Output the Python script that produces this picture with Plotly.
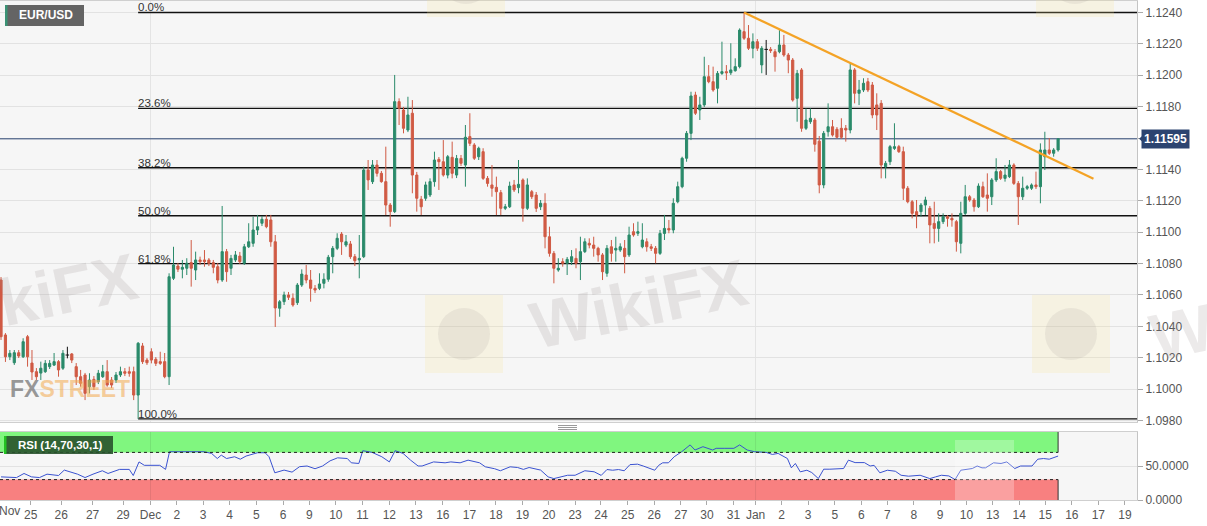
import plotly.graph_objects as go

# ---------------- data (EUR/USD, 4-hour candles) ----------------
opens = [
    1.10695, 1.10345, 1.10206, 1.10168, 1.10232, 1.10206, 1.10334, 1.10166, 1.10111, 1.10102,
    1.10111, 1.10143, 1.10153, 1.10175, 1.10133, 1.10217, 1.10224, 1.10143, 1.10079, 1.10090,
    1.10015, 1.10062, 1.10047, 1.10079, 1.10111, 1.10058, 1.10058, 1.10090, 1.10111, 1.10111,
    1.10111, 1.09962, 1.10275, 1.10185, 1.10238, 1.10190, 1.10175, 1.10175, 1.10079, 1.10706,
    1.10784, 1.10764, 1.10770, 1.10806, 1.10759, 1.10823, 1.10823, 1.10823, 1.10806, 1.10780,
    1.10695, 1.10876, 1.10770, 1.10823, 1.10848, 1.10802, 1.10907, 1.10929, 1.11014, 1.11057,
    1.11082, 1.11078, 1.10939, 1.10515, 1.10557, 1.10600, 1.10579, 1.10551, 1.10663, 1.10727,
    1.10695, 1.10642, 1.10642, 1.10674, 1.10700, 1.10844, 1.10897, 1.10988, 1.10918, 1.10925,
    1.10844, 1.10823, 1.10844, 1.11396, 1.11322, 1.11428, 1.11375, 1.11322, 1.11173, 1.11131,
    1.11832, 1.11779, 1.11651, 1.11758, 1.11364, 1.11210, 1.11216, 1.11237, 1.11322, 1.11464,
    1.11449, 1.11364, 1.11477, 1.11364, 1.11470, 1.11428, 1.11609, 1.11556, 1.11481, 1.11513,
    1.11343, 1.11301, 1.11286, 1.11252, 1.11152, 1.11162, 1.11301, 1.11284, 1.11333, 1.11152,
    1.11258, 1.11237, 1.11162, 1.11184, 1.10971, 1.10865, 1.10759, 1.10812, 1.10802, 1.10812,
    1.10833, 1.10812, 1.10876, 1.10929, 1.10918, 1.10897, 1.10855, 1.10738, 1.10907, 1.10886,
    1.10886, 1.10897, 1.10855, 1.11003, 1.10993, 1.10907, 1.10939, 1.10907, 1.10897, 1.10865,
    1.10992, 1.11024, 1.11014, 1.11194, 1.11290, 1.11471, 1.11630, 1.11874, 1.11779, 1.11811,
    1.11991, 1.11959, 1.11917, 1.12012, 1.12023, 1.12016, 1.12029, 1.12055, 1.12278, 1.12236,
    1.12172, 1.12214, 1.12066, 1.12165, 1.12165, 1.12150, 1.12150, 1.12193, 1.12129, 1.12097,
    1.11853, 1.12034, 1.11662, 1.11704, 1.11715, 1.11580, 1.11301, 1.11640, 1.11672, 1.11656,
    1.11662, 1.11662, 1.11651, 1.12034, 1.11885, 1.11906, 1.11959, 1.11938, 1.11811, 1.11821,
    1.11417, 1.11449, 1.11534, 1.11545, 1.11513, 1.11280, 1.11194, 1.11131, 1.11131, 1.11173,
    1.11152, 1.11056, 1.11024, 1.11067, 1.11099, 1.11088, 1.11067, 1.10929, 1.11120, 1.11226,
    1.11205, 1.11162, 1.11290, 1.11237, 1.11226, 1.11333, 1.11386, 1.11343, 1.11354, 1.11428,
    1.11311, 1.11226, 1.11280, 1.11280, 1.11301, 1.11290, 1.11481, 1.11524, 1.11503, 1.11524,
]
highs = [
    1.10714, 1.10357, 1.10249, 1.10249, 1.10249, 1.10324, 1.10345, 1.10249, 1.10134, 1.10175,
    1.10185, 1.10185, 1.10230, 1.10185, 1.10249, 1.10270, 1.10230, 1.10166, 1.10122, 1.10103,
    1.10101, 1.10083, 1.10122, 1.10154, 1.10185, 1.10077, 1.10109, 1.10143, 1.10134, 1.10143,
    1.10143, 1.10300, 1.10294, 1.10198, 1.10260, 1.10204, 1.10238, 1.10230, 1.10738, 1.10907,
    1.10804, 1.10823, 1.10834, 1.10950, 1.10876, 1.10844, 1.10886, 1.10835, 1.10823, 1.10804,
    1.11167, 1.10893, 1.10855, 1.10880, 1.10874, 1.10925, 1.11057, 1.11099, 1.11110, 1.11103,
    1.11110, 1.11110, 1.10982, 1.10568, 1.10621, 1.10619, 1.10610, 1.10676, 1.10763, 1.10791,
    1.10759, 1.10663, 1.10738, 1.10738, 1.10855, 1.10912, 1.10993, 1.11001, 1.10982, 1.10944,
    1.10861, 1.10982, 1.11417, 1.11460, 1.11460, 1.11460, 1.11390, 1.11545, 1.11186, 1.12002,
    1.11853, 1.11798, 1.11863, 1.11842, 1.11384, 1.11231, 1.11322, 1.11343, 1.11513, 1.11479,
    1.11587, 1.11492, 1.11577, 1.11492, 1.11492, 1.11683, 1.11758, 1.11568, 1.11545, 1.11535,
    1.11358, 1.11428, 1.11354, 1.11269, 1.11180, 1.11322, 1.11333, 1.11460, 1.11343, 1.11343,
    1.11269, 1.11256, 1.11205, 1.11248, 1.11035, 1.10880, 1.10834, 1.10834, 1.10842, 1.10886,
    1.10897, 1.10971, 1.10961, 1.10961, 1.10971, 1.10907, 1.10867, 1.10918, 1.10950, 1.10971,
    1.10929, 1.10950, 1.11035, 1.11057, 1.11067, 1.11057, 1.10961, 1.10925, 1.10912, 1.11014,
    1.11110, 1.11078, 1.11216, 1.11322, 1.11481, 1.11645, 1.11895, 1.11895, 1.11863, 1.12118,
    1.12065, 1.12055, 1.12027, 1.12214, 1.12065, 1.12204, 1.12108, 1.12299, 1.12400, 1.12320,
    1.12267, 1.12231, 1.12186, 1.12225, 1.12180, 1.12167, 1.12288, 1.12257, 1.12142, 1.12110,
    1.12034, 1.12046, 1.11789, 1.11789, 1.11728, 1.11613, 1.11645, 1.11821, 1.11715, 1.11670,
    1.11726, 1.11683, 1.12076, 1.12046, 1.11970, 1.11981, 1.11983, 1.11957, 1.11885, 1.11842,
    1.11454, 1.11556, 1.11694, 1.11556, 1.11545, 1.11294, 1.11205, 1.11205, 1.11186, 1.11226,
    1.11167, 1.11194, 1.11120, 1.11120, 1.11109, 1.11120, 1.11078, 1.11194, 1.11301, 1.11237,
    1.11218, 1.11311, 1.11322, 1.11375, 1.11345, 1.11471, 1.11396, 1.11428, 1.11460, 1.11439,
    1.11326, 1.11354, 1.11301, 1.11311, 1.11386, 1.11566, 1.11640, 1.11600, 1.11536, 1.11600,
]
lows = [
    1.10313, 1.10173, 1.10185, 1.10154, 1.10198, 1.10198, 1.10143, 1.10058, 1.10058, 1.10058,
    1.10103, 1.10128, 1.10147, 1.10079, 1.10122, 1.10196, 1.10166, 1.10026, 1.10015, 1.09930,
    1.09973, 1.09994, 1.10032, 1.10071, 1.10015, 1.10007, 1.10039, 1.10077, 1.10083, 1.10079,
    1.09930, 1.09810, 1.10160, 1.10154, 1.10164, 1.10147, 1.10154, 1.10069, 1.10026, 1.10695,
    1.10746, 1.10706, 1.10727, 1.10653, 1.10695, 1.10791, 1.10780, 1.10784, 1.10738, 1.10674,
    1.10683, 1.10684, 1.10727, 1.10810, 1.10797, 1.10791, 1.10899, 1.10907, 1.10982, 1.11039,
    1.11025, 1.10907, 1.10396, 1.10461, 1.10536, 1.10568, 1.10525, 1.10536, 1.10651, 1.10674,
    1.10557, 1.10612, 1.10631, 1.10642, 1.10684, 1.10738, 1.10886, 1.10855, 1.10905, 1.10830,
    1.10784, 1.10706, 1.10835, 1.11269, 1.11307, 1.11354, 1.11315, 1.11109, 1.11035, 1.11122,
    1.11683, 1.11630, 1.11638, 1.11248, 1.11131, 1.11109, 1.11200, 1.11224, 1.11290, 1.11269,
    1.11354, 1.11343, 1.11343, 1.11345, 1.11422, 1.11290, 1.11549, 1.11460, 1.11460, 1.11333,
    1.11290, 1.11226, 1.11109, 1.11109, 1.11141, 1.11154, 1.11256, 1.11248, 1.11067, 1.11141,
    1.11211, 1.11129, 1.11141, 1.10897, 1.10844, 1.10674, 1.10748, 1.10780, 1.10727, 1.10791,
    1.10770, 1.10695, 1.10867, 1.10897, 1.10844, 1.10812, 1.10695, 1.10716, 1.10812, 1.10812,
    1.10874, 1.10738, 1.10842, 1.10971, 1.10976, 1.10897, 1.10876, 1.10880, 1.10802, 1.10855,
    1.10950, 1.10993, 1.10993, 1.11184, 1.11280, 1.11449, 1.11587, 1.11747, 1.11715, 1.11798,
    1.11949, 1.11895, 1.11821, 1.12002, 1.11970, 1.12002, 1.12023, 1.12044, 1.12225, 1.12161,
    1.12108, 1.12155, 1.12013, 1.12002, 1.12142, 1.12023, 1.12140, 1.12118, 1.12013, 1.11832,
    1.11704, 1.11640, 1.11651, 1.11690, 1.11513, 1.11248, 1.11280, 1.11609, 1.11609, 1.11598,
    1.11594, 1.11577, 1.11630, 1.11821, 1.11810, 1.11893, 1.11893, 1.11726, 1.11651, 1.11343,
    1.11343, 1.11428, 1.11524, 1.11505, 1.11205, 1.11184, 1.11088, 1.11025, 1.11099, 1.11109,
    1.10929, 1.10929, 1.10939, 1.11052, 1.11035, 1.11035, 1.10876, 1.10865, 1.11109, 1.11194,
    1.11131, 1.11154, 1.11218, 1.11131, 1.11173, 1.11320, 1.11333, 1.11322, 1.11345, 1.11301,
    1.11046, 1.11205, 1.11269, 1.11269, 1.11275, 1.11184, 1.11396, 1.11492, 1.11481, 1.11513,
]
closes = [
    1.10334, 1.10206, 1.10228, 1.10232, 1.10211, 1.10302, 1.10206, 1.10109, 1.10079, 1.10133,
    1.10164, 1.10164, 1.10175, 1.10122, 1.10228, 1.10217, 1.10185, 1.10079, 1.10037, 1.09973,
    1.10058, 1.10015, 1.10101, 1.10111, 1.10026, 1.10026, 1.10090, 1.10111, 1.10101, 1.10101,
    1.09962, 1.10292, 1.10175, 1.10168, 1.10185, 1.10164, 1.10164, 1.10079, 1.10716, 1.10791,
    1.10764, 1.10776, 1.10802, 1.10770, 1.10823, 1.10812, 1.10812, 1.10802, 1.10776, 1.10695,
    1.10876, 1.10748, 1.10833, 1.10855, 1.10812, 1.10907, 1.10939, 1.11014, 1.11035, 1.11082,
    1.11035, 1.10939, 1.10517, 1.10557, 1.10600, 1.10585, 1.10536, 1.10663, 1.10733, 1.10695,
    1.10642, 1.10631, 1.10670, 1.10700, 1.10840, 1.10897, 1.10961, 1.10939, 1.10939, 1.10844,
    1.10818, 1.10833, 1.11396, 1.11333, 1.11428, 1.11375, 1.11322, 1.11173, 1.11131, 1.11832,
    1.11790, 1.11662, 1.11747, 1.11364, 1.11216, 1.11162, 1.11301, 1.11322, 1.11460, 1.11449,
    1.11364, 1.11481, 1.11375, 1.11470, 1.11439, 1.11605, 1.11566, 1.11471, 1.11535, 1.11343,
    1.11311, 1.11280, 1.11258, 1.11152, 1.11162, 1.11294, 1.11269, 1.11305, 1.11152, 1.11301,
    1.11226, 1.11152, 1.11184, 1.10971, 1.10865, 1.10770, 1.10770, 1.10802, 1.10827, 1.10844,
    1.10802, 1.10876, 1.10939, 1.10918, 1.10897, 1.10855, 1.10748, 1.10897, 1.10865, 1.10897,
    1.10907, 1.10844, 1.10982, 1.10982, 1.11003, 1.10950, 1.10907, 1.10897, 1.10865, 1.10992,
    1.11024, 1.11014, 1.11184, 1.11290, 1.11471, 1.11630, 1.11868, 1.11758, 1.11811, 1.11991,
    1.11959, 1.11906, 1.12012, 1.12023, 1.12016, 1.12034, 1.12055, 1.12288, 1.12236, 1.12172,
    1.12214, 1.12172, 1.12172, 1.12165, 1.12157, 1.12118, 1.12193, 1.12129, 1.12097, 1.11842,
    1.12012, 1.11662, 1.11715, 1.11726, 1.11560, 1.11301, 1.11630, 1.11672, 1.11619, 1.11605,
    1.11605, 1.11651, 1.12034, 1.11885, 1.11906, 1.11949, 1.11906, 1.11747, 1.11747, 1.11428,
    1.11439, 1.11545, 1.11545, 1.11513, 1.11280, 1.11194, 1.11120, 1.11109, 1.11173, 1.11205,
    1.11046, 1.11024, 1.11067, 1.11099, 1.11088, 1.11078, 1.10939, 1.11120, 1.11226, 1.11205,
    1.11162, 1.11294, 1.11226, 1.11216, 1.11333, 1.11386, 1.11343, 1.11364, 1.11428, 1.11311,
    1.11226, 1.11280, 1.11290, 1.11301, 1.11290, 1.11524, 1.11524, 1.11503, 1.11524, 1.11595,
]

price_ticks = [1.0980, 1.1000, 1.1020, 1.1040, 1.1060, 1.1080, 1.1100,
               1.1120, 1.1140, 1.1160, 1.1180, 1.1200, 1.1220, 1.1240]

fib_high = 1.1240
fib_low = 1.0981
fib_anchor_bar = 31
fib_ratios = [0.0, 0.236, 0.382, 0.5, 0.618, 1.0]
fib_labels = ["0.0%", "23.6%", "38.2%", "50.0%", "61.8%", "100.0%"]

trend_bars = [168, 247]
trend_prices = [1.12400, 1.11341]

last_price = 1.11595

rsi_bars = [
    0, 3.5, 5.2, 6.9, 8.7, 10.4, 13.0, 14.3, 17.3, 19.0,
    20.8, 22.9, 24.2, 26.8, 29.0, 29.9, 31.2, 32.4, 35.9, 37.2,
    38.1, 39.8, 43.3, 45.9, 47.6, 48.9, 49.8, 51.0, 52.8, 54.1,
    55.4, 58.0, 59.7, 60.6, 61.9, 64.0, 65.8, 67.5, 69.2, 71.0,
    72.7, 74.4, 76.1, 78.3, 79.2, 80.9, 81.8, 83.9, 86.1, 87.8,
    89.1, 90.9, 92.6, 94.3, 95.2, 97.8, 100.4, 101.7, 103.8, 105.6,
    108.2, 109.5, 111.6, 112.9, 115.1, 116.8, 118.1, 119.4, 122.0, 123.7,
    125.0, 128.1, 129.8, 132.0, 134.1, 135.7, 137.0, 138.3, 139.6, 140.9,
    142.2, 143.9, 145.2, 146.5, 147.8, 148.7, 149.6, 150.9, 152.2, 153.9,
    155.8, 156.9, 158.7, 160.9, 161.7, 163.5, 165.7, 167.0, 168.7, 170.4,
    173.0, 174.4, 175.7, 177.8, 178.7, 179.6, 180.7, 182.2, 183.3, 184.8,
    186.0, 187.4, 189.2, 190.5, 191.6, 193.1, 195.2, 196.5, 197.4, 198.7,
    200.4, 202.2, 203.5, 205.2, 207.8, 210.0, 211.3, 212.6, 214.3, 215.7,
    217.0, 218.3, 219.6, 220.7, 221.8, 222.6, 224.4, 226.1, 227.4, 229.2,
    230.5, 232.2, 233.1, 234.4, 235.7, 237.0, 239.0,
]
rsi_vals = [
    34, 33, 39, 34, 33, 38, 36, 44, 38, 33,
    38, 43, 39, 45, 45, 36, 56, 51, 51, 45,
    71, 71, 70, 71, 68.5, 61, 66, 61, 63.6, 60,
    64.6, 69.5, 69.5, 63.6, 40, 44, 41, 49, 50, 46,
    50, 57.6, 62, 61, 54.7, 53.7, 72.5, 70, 63.6, 56,
    72.5, 68.5, 58.6, 50, 50, 56, 54.7, 56, 54.7, 58.6,
    54.7, 48.8, 46, 43, 48.8, 47.8, 45, 47.8, 44, 34,
    31.5, 36.4, 36.4, 43, 41.5, 36.2, 44.8, 43.8, 44.8, 43,
    52, 52.7, 50, 47.3, 43.8, 51, 54.7, 54.7, 63.6, 71,
    81, 73.5, 78.4, 73.5, 76, 76, 76, 81, 73.5, 71,
    70, 67, 68.5, 61, 47.3, 53.7, 41.4, 43.8, 40.4, 31.5,
    45.3, 45.3, 46.3, 46.3, 58.6, 55, 55, 50, 51, 40,
    43.8, 42.3, 36.4, 35, 36.4, 31.5, 34, 36.4, 35.4, 30,
    43.8, 45.3, 46.3, 50, 47.3, 47.3, 54.7, 53.7, 56, 46.3,
    50, 50, 50, 60, 61, 60, 64.6,
]
rsi_upper = 70
rsi_lower = 30
rsi_ticks = [0, 50]

date_labels = ["25", "26", "27", "29", "Dec", "2", "3", "4", "5", "6", "9", "10", "11", "12",
               "13", "16", "17", "18", "19", "20", "23", "24", "25", "26", "27", "30", "31",
               "Jan", "2", "3", "5", "6", "7", "8", "9", "10", "13", "14", "15", "16", "17", "19"]
date_bars = [6.7, 13.6, 20.7, 27.6, 33.8, 39.75, 45.7, 51.7, 57.7, 63.8, 69.7, 75.7, 81.7,
             87.8, 93.8, 99.9, 105.9, 111.9, 117.9, 123.85, 129.8, 135.65, 141.7, 147.7,
             153.7, 159.6, 165.6, 170.6, 176.5, 182.5, 188.5, 194.5, 200.4, 206.4, 212.3,
             218.3, 224.2, 230.2, 236.1, 242.1, 248.1, 254.1]
first_month_label = "Nov"

# ---------------- styling ----------------
GREEN = "#2a8a6a"
RED = "#d05a44"
FONT = "Liberation Sans, Arial, sans-serif"
XMIN, XMAX = -0.23, 256.84
YMIN, YMAX = 1.097903, 1.124733
PLOT_W, PLOT_TOP, PLOT_BOTTOM = 1137.0, 1.0, 500.0


def pxx(p):
    return p / PLOT_W


def pxy(p):
    return (PLOT_BOTTOM - p) / (PLOT_BOTTOM - PLOT_TOP)


n = len(closes)
reg = [i for i in range(n) if closes[i] != opens[i]]
doji = [i for i in range(n) if closes[i] == opens[i]]

fig = go.Figure()
fig.add_trace(go.Candlestick(
    x=reg,
    open=[opens[i] for i in reg], high=[highs[i] for i in reg],
    low=[lows[i] for i in reg], close=[closes[i] for i in reg],
    increasing=dict(line=dict(color=GREEN, width=1), fillcolor=GREEN),
    decreasing=dict(line=dict(color=RED, width=1), fillcolor=RED),
    whiskerwidth=0, xaxis="x", yaxis="y", showlegend=False, name="EUR/USD",
))
dx, dy = [], []
for i in doji:
    dx += [i, i, None, i - 0.4, i + 0.4, None]
    dy += [lows[i], highs[i], None, opens[i], opens[i], None]
fig.add_trace(go.Scatter(x=dx, y=dy, mode="lines", line=dict(color="#111", width=1),
                         xaxis="x", yaxis="y", showlegend=False, hoverinfo="skip"))
fig.add_trace(go.Scatter(x=rsi_bars, y=rsi_vals, mode="lines",
                         line=dict(color="#3a52d0", width=1),
                         xaxis="x2", yaxis="y2", showlegend=False, name="RSI"))

shapes = []
annotations = []


def note(x, y, text, size, color, family=FONT, angle=0):
    annotations.append(dict(x=pxx(x), y=pxy(y), xref="paper", yref="paper", text=text,
                            showarrow=False, xanchor="center", yanchor="middle", textangle=angle,
                            font=dict(family=family, size=size, color=color)))


# RSI bands
last_bar = n - 1
shapes.append(dict(type="rect", xref="x2", yref="y2", x0=XMIN, x1=last_bar, y0=rsi_upper, y1=100,
                   fillcolor="#80f67f", line=dict(width=0), layer="below"))
shapes.append(dict(type="rect", xref="x2", yref="y2", x0=XMIN, x1=last_bar, y0=0, y1=rsi_lower,
                   fillcolor="#f88080", line=dict(width=0), layer="below"))
for lvl in (rsi_upper, rsi_lower):
    shapes.append(dict(type="line", xref="x2", yref="y2", x0=XMIN, x1=last_bar, y0=lvl, y1=lvl,
                       line=dict(color="#222", width=1, dash="dot")))
for y0, y1 in ((rsi_upper, 100), (0, rsi_lower)):
    shapes.append(dict(type="line", xref="x2", yref="y2", x0=last_bar, x1=last_bar, y0=y0, y1=y1,
                       line=dict(color="#333", width=1)))
for lab, b in zip(date_labels, date_bars):
    if lab in ("Dec", "Jan"):
        shapes.append(dict(type="line", xref="x2", yref="y2", x0=b, x1=b, y0=0, y1=100,
                           line=dict(color="rgba(0,0,0,0.08)", width=1), layer="below"))

# Fibonacci retracement
for r, lab in zip(fib_ratios, fib_labels):
    lvl = fib_high - r * (fib_high - fib_low)
    shapes.append(dict(type="line", xref="x", yref="y", x0=fib_anchor_bar, x1=XMAX, y0=lvl, y1=lvl,
                       line=dict(color="#111", width=1.4), layer="between"))
    annotations.append(dict(x=fib_anchor_bar, y=lvl, xref="x", yref="y", text=lab, showarrow=False,
                            xanchor="left", yanchor="bottom", xshift=-2, yshift=-3,
                            font=dict(family=FONT, size=11.5, color="#333")))

# current price line + label
shapes.append(dict(type="line", xref="x", yref="y", x0=XMIN, x1=XMAX, y0=last_price, y1=last_price,
                   line=dict(color="#2b4572", width=1), layer="between"))
annotations.append(dict(x=1, xref="paper", y=last_price, yref="y", text="<b>%.5f</b>" % last_price,
                        showarrow=False, xanchor="left", yanchor="middle", xshift=4,
                        font=dict(family=FONT, size=12, color="white"),
                        bgcolor="#2c4470", borderpad=2))
ay = 4 * (YMAX - YMIN) / 421
shapes.append(dict(type="path", xref="paper", yref="y",
                   path="M %f %f L %f %f L %f %f Z" % (pxx(1139), last_price, pxx(1143.5),
                                                       last_price + ay, pxx(1143.5), last_price - ay),
                   fillcolor="#2c4470", line=dict(width=0)))

# descending trend line
shapes.append(dict(type="line", xref="x", yref="y", x0=trend_bars[0], y0=trend_prices[0],
                   x1=trend_bars[1], y1=trend_prices[1], line=dict(color="#f4a326", width=2.2)))

# symbol box
shapes.append(dict(type="rect", xref="paper", yref="paper", x0=pxx(5), x1=pxx(84), y0=pxy(26), y1=pxy(5),
                   fillcolor="#646464", line=dict(width=0)))
shapes.append(dict(type="rect", xref="paper", yref="paper", x0=pxx(5), x1=pxx(7.5), y0=pxy(26), y1=pxy(5),
                   fillcolor="#3a9274", line=dict(width=0)))
note(46, 15.5, "<b>EUR/USD</b>", 12, "white")
# RSI box
shapes.append(dict(type="rect", xref="paper", yref="paper", x0=pxx(4), x1=pxx(113), y0=pxy(454), y1=pxy(436),
                   fillcolor="rgba(40,82,44,0.9)", line=dict(width=0)))
shapes.append(dict(type="rect", xref="paper", yref="paper", x0=pxx(4), x1=pxx(6.5), y0=pxy(454), y1=pxy(436),
                   fillcolor="#22c322", line=dict(width=0)))
note(60, 445, "<b>RSI (14,70,30,1)</b>", 11.5, "white")

# pane splitter handle
for yy in (425.5, 427.5, 429.5):
    shapes.append(dict(type="line", xref="paper", yref="paper", x0=pxx(558), x1=pxx(577),
                       y0=pxy(yy), y1=pxy(yy), line=dict(color="#9a9a9a", width=1)))

# first month label
note(9, 510.5, first_month_label, 12, "#555")

# watermarks
for cx, cy in ((464, 334), (1071, 334), (466, -22), (1075, -22)):
    shapes.append(dict(type="rect", xref="paper", yref="paper", x0=pxx(cx - 39), x1=pxx(cx + 39),
                       y0=pxy(cy + 39), y1=pxy(cy - 39), fillcolor="rgba(248,228,150,0.2)",
                       line=dict(width=0)))
    shapes.append(dict(type="circle", xref="paper", yref="paper", x0=pxx(cx - 26), x1=pxx(cx + 26),
                       y0=pxy(cy + 26), y1=pxy(cy - 26), fillcolor="rgba(150,140,140,0.13)",
                       line=dict(width=0)))
shapes.append(dict(type="rect", xref="paper", yref="paper", x0=pxx(955), x1=pxx(1014),
                   y0=pxy(500), y1=pxy(440), fillcolor="rgba(255,255,255,0.25)", line=dict(width=0)))
for cx, cy in ((28, 298), (638, 304), (1258, 316)):
    note(cx, cy, "<b>WikiFX</b>", 66, "rgba(150,138,138,0.18)", angle=-12)
note(70, 389, "<b>FX<span style='color:rgba(243,172,84,0.72)'>STREET</span></b>", 23,
     "rgba(125,125,125,0.78)")

month_ticks = [b for lab, b in zip(date_labels, date_bars) if lab in ("Dec", "Jan")]
price_text = ["" if abs(t - last_price) < 0.0008 else "%.4f" % t for t in price_ticks]

fig.update_layout(
    template="none",
    width=1207, height=526,
    margin=dict(l=0, r=70, t=1, b=26),
    paper_bgcolor="white", plot_bgcolor="#f6f6f6",
    font=dict(family=FONT, size=12, color="#555"),
    showlegend=False, boxgap=0.3,
    xaxis=dict(domain=[0, 1], anchor="y", range=[XMIN, XMAX], rangeslider=dict(visible=False),
               tickvals=month_ticks, showticklabels=False, ticks="", showgrid=True,
               gridcolor="#e4e4e4", zeroline=False, showline=True, linecolor="#cfcfcf", mirror=True),
    yaxis=dict(domain=[pxy(422), 1], anchor="x", range=[YMIN, YMAX], side="right",
               tickvals=price_ticks, ticktext=price_text, ticks="outside", ticklen=5, tickcolor="#aaa",
               showgrid=True, gridcolor="#e2e2e2", zeroline=False, showline=True, linecolor="#c4c4c4",
               mirror=True, tickfont=dict(family=FONT, size=12, color="#555")),
    xaxis2=dict(domain=[0, 1], anchor="y2", range=[XMIN, XMAX], tickvals=date_bars, ticktext=date_labels,
                ticks="outside", ticklen=4, tickcolor="#aaa", showgrid=False, zeroline=False,
                showline=True, linecolor="#cfcfcf", mirror=True,
                tickfont=dict(family=FONT, size=12, color="#555")),
    yaxis2=dict(domain=[0, pxy(432)], anchor="x2", range=[0, 100], side="right", tickvals=rsi_ticks,
                tickformat=".4f", ticks="outside", ticklen=5, tickcolor="#aaa", showgrid=True,
                gridcolor="#e2e2e2", zeroline=False, showline=True, linecolor="#c4c4c4", mirror=True,
                tickfont=dict(family=FONT, size=12, color="#555")),
    shapes=shapes,
    annotations=annotations,
)

fig.write_html("out.html", config={"displayModeBar": False},
               post_script="document.body.style.margin='0px';")
